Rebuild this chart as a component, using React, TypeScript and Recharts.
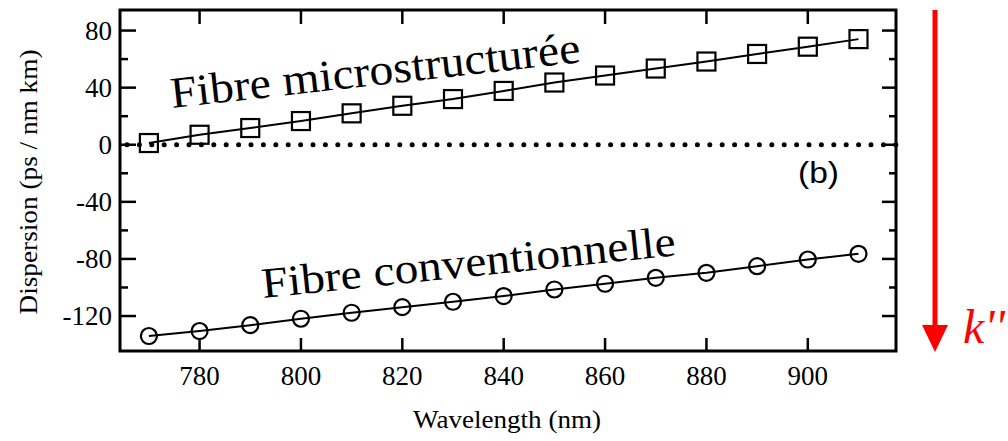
import { LineChart, Line, XAxis, YAxis, ReferenceLine } from 'recharts';

// wavelength (nm) of each measured point
const wavelengths = [770, 780, 790, 800, 810, 820, 830, 840, 850, 860, 870, 880, 890, 900, 910];
// dispersion (ps / nm km)
const microstructured = [1.2, 7, 11.7, 16.6, 22, 27.3, 32, 37.7, 43.6, 48.5, 53.4, 58.3, 63.6, 68.7, 74];
const conventional = [-134, -130.5, -126.4, -121.9, -117.7, -113.8, -110, -106, -101.4, -97.4, -93.2, -89.7, -85.1, -80.4, -76.4];

const xTicks = [780, 800, 820, 840, 860, 880, 900];
const yTicks = [-120, -100, -80, -60, -40, -20, 0, 20, 40, 60, 80];
const yLabelled = [-120, -80, -40, 0, 40, 80];

const data = wavelengths.map((w, i) => ({ w, micro: microstructured[i], conv: conventional[i] }));

const W = 1008;
const H = 441;
const PLOT = { left: 120, top: 10, right: 896, bottom: 351 };
const serif = { fontFamily: "'Liberation Serif', serif" };
const sans = { fontFamily: "'Liberation Sans', sans-serif" };

function XTick(props: any) {
  const { x, y, payload } = props;
  return (
    <g>
      <line x1={x} y1={y} x2={x} y2={y - 13} stroke="#000" strokeWidth={2.5} />
      <line x1={x} y1={PLOT.top} x2={x} y2={PLOT.top + 14} stroke="#000" strokeWidth={2.5} />
      <text x={x} y={y + 34} textAnchor="middle" fontSize={27} style={serif} fill="#000">
        {payload.value}
      </text>
    </g>
  );
}

function YTick(props: any) {
  const { x, y, payload } = props;
  const major = yLabelled.includes(payload.value);
  return (
    <g>
      <line x1={x} y1={y} x2={x + (major ? 16 : 8)} y2={y} stroke="#000" strokeWidth={2.5} />
      <line x1={PLOT.right} y1={y} x2={PLOT.right - (major ? 14 : 7)} y2={y} stroke="#000" strokeWidth={2.5} />
      {major && (
        <text x={x - 8} y={y + 9} textAnchor="end" fontSize={27} style={serif} fill="#000">
          {payload.value}
        </text>
      )}
    </g>
  );
}

const squareDot = (p: any) => (
  <rect key={`s${p.index}`} x={p.cx - 9} y={p.cy - 9} width={18} height={18} fill="none" stroke="#000" strokeWidth={2.2} />
);

const circleDot = (p: any) => (
  <circle key={`c${p.index}`} cx={p.cx} cy={p.cy} r={8} fill="none" stroke="#000" strokeWidth={2.2} />
);

const zeroLine = (p: any) => (
  <line
    x1={p.x1 + 7}
    y1={p.y1}
    x2={p.x2 + 8}
    y2={p.y2}
    stroke="#000"
    strokeWidth={5}
    strokeLinecap="round"
    strokeDasharray="0 12.4"
  />
);

export default function App() {
  return (
    <div style={{ position: 'absolute', left: 0, top: 0, width: W, height: H, background: '#fff' }}>
      <LineChart
        width={W}
        height={H}
        data={data}
        margin={{ top: PLOT.top, right: W - PLOT.right, bottom: 60, left: 80 }}
      >
        <XAxis
          dataKey="w"
          type="number"
          domain={[764.3, 917.4]}
          ticks={xTicks}
          height={H - PLOT.bottom - 60}
          axisLine={false}
          tickLine={false}
          tickSize={0}
          tickMargin={0}
          tick={XTick}
          allowDataOverflow
        />
        <YAxis
          type="number"
          domain={[-144.5, 94.4]}
          ticks={yTicks}
          width={PLOT.left - 80}
          axisLine={false}
          tickLine={false}
          tickSize={0}
          tickMargin={0}
          tick={YTick}
          interval={0}
          allowDataOverflow
        />
        <ReferenceLine y={0} shape={zeroLine} />
        <Line
          dataKey="micro"
          type="linear"
          stroke="#000"
          strokeWidth={2}
          dot={squareDot}
          activeDot={false}
          isAnimationActive={false}
        />
        <Line
          dataKey="conv"
          type="linear"
          stroke="#000"
          strokeWidth={2}
          dot={circleDot}
          activeDot={false}
          isAnimationActive={false}
        />
      </LineChart>
      <svg
        width={W}
        height={H}
        style={{ position: 'absolute', left: 0, top: 0, pointerEvents: 'none' }}
      >
        <rect
          x={PLOT.left}
          y={PLOT.top}
          width={PLOT.right - PLOT.left}
          height={PLOT.bottom - PLOT.top}
          fill="none"
          stroke="#000"
          strokeWidth={3}
        />
        <text
          transform="translate(37,182) rotate(-90)"
          textAnchor="middle"
          fontSize={25}
          style={serif}
          textLength={265}
          lengthAdjust="spacingAndGlyphs"
        >
          Dispersion (ps / nm km)
        </text>
        <text x={507} y={428} textAnchor="middle" fontSize={25} style={serif} textLength={188} lengthAdjust="spacingAndGlyphs">
          Wavelength (nm)
        </text>
        <text
          x={172}
          y={108}
          transform="rotate(-6.4 172 108)"
          fontSize={44}
          style={serif}
          textLength={412}
          lengthAdjust="spacingAndGlyphs"
        >
          Fibre microstructurée
        </text>
        <text
          x={263}
          y={298}
          transform="rotate(-5.9 263 298)"
          fontSize={43}
          style={serif}
          textLength={416}
          lengthAdjust="spacingAndGlyphs"
        >
          Fibre conventionnelle
        </text>
        <text x={798} y={183} fontSize={30} style={sans} textLength={41} lengthAdjust="spacingAndGlyphs">
          (b)
        </text>
        <line x1={935} y1={10} x2={935} y2={328} stroke="#ff0000" strokeWidth={5} />
        <polygon points="922,325 948,325 935,352" fill="#ff0000" />
        <text x={963} y={343} fontSize={48} style={serif} fontStyle="italic" fill="#ff0000">
          k''
        </text>
      </svg>
    </div>
  );
}
